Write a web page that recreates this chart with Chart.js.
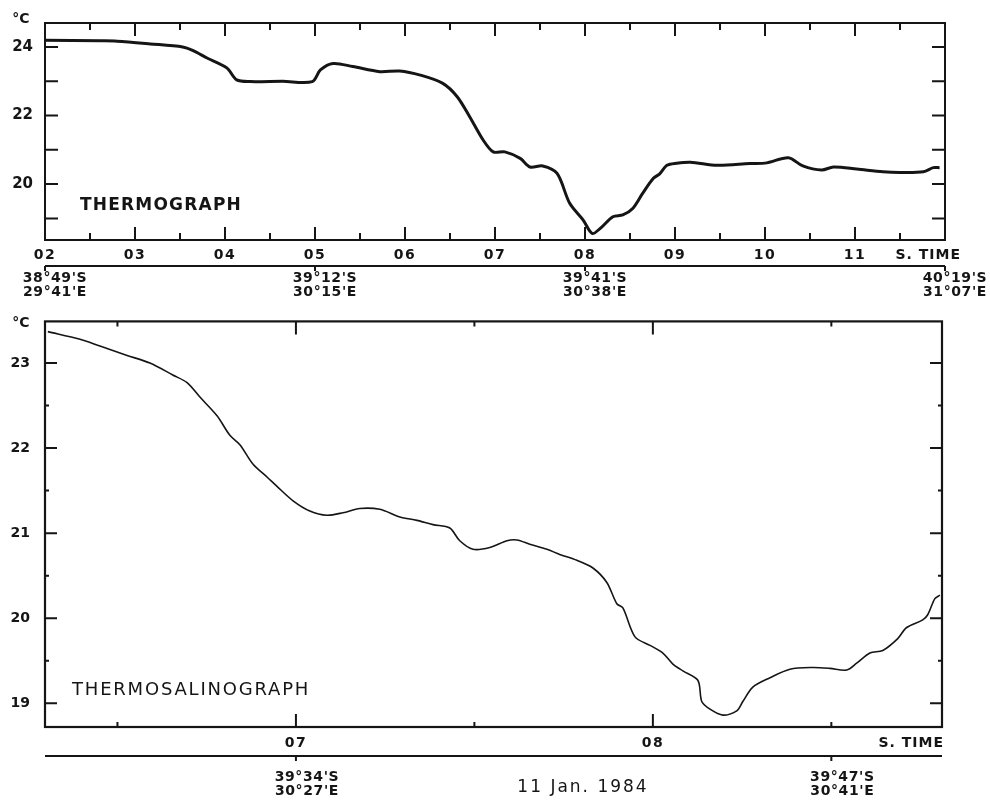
<!DOCTYPE html>
<html>
<head>
<meta charset="utf-8">
<script src="https://cdn.jsdelivr.net/npm/chart.js@4.4.1/dist/chart.umd.min.js"></script>
<style>
html, body { margin: 0; padding: 0; background: #fff; }
#wrap { position: relative; width: 990px; height: 801px; overflow: hidden; }
.panel { position: absolute; left: 0; width: 990px; }
#top { top: 0; height: 300px; }
#bottom { top: 298px; height: 503px; }
</style>
</head>
<body>
<div id="wrap">
  <div class="panel" id="top"><canvas id="thermoChart"></canvas></div>
  <div class="panel" id="bottom"><canvas id="tsgChart"></canvas></div>
</div>
<script>
// Thermograph (upper panel) - ship time in hours, temperature in degC
const thermoHours = [2.0, 2.61, 2.8, 3.17, 3.53, 3.64, 3.8, 4.02, 4.13, 4.28, 4.64, 4.97, 5.06, 5.2, 5.42, 5.72, 5.94, 6.17, 6.42, 6.58, 6.72, 6.87, 6.98, 7.11, 7.28, 7.39, 7.53, 7.69, 7.83, 7.98, 8.08, 8.17, 8.31, 8.42, 8.53, 8.64, 8.76, 8.83, 8.91, 9.02, 9.17, 9.47, 9.83, 10.02, 10.26, 10.42, 10.63, 10.76, 11.02, 11.31, 11.5, 11.76, 11.87, 11.94];
const thermoTemps = [24.2, 24.18, 24.17, 24.09, 24.0, 23.9, 23.68, 23.39, 23.04, 22.99, 23.0, 22.99, 23.33, 23.52, 23.43, 23.28, 23.3, 23.18, 22.94, 22.55, 21.96, 21.28, 20.94, 20.94, 20.75, 20.5, 20.53, 20.31, 19.44, 18.95, 18.56, 18.71, 19.05, 19.1, 19.29, 19.73, 20.17, 20.3, 20.55, 20.61, 20.64, 20.55, 20.6, 20.62, 20.77, 20.53, 20.41, 20.5, 20.44, 20.36, 20.34, 20.36, 20.48, 20.48];

// Thermosalinograph (lower panel)
const tsgHours = [6.305, 6.395, 6.451, 6.527, 6.591, 6.655, 6.695, 6.731, 6.779, 6.815,
  6.843, 6.88, 6.919, 6.947, 6.992, 7.039, 7.087, 7.132, 7.179, 7.235,
  7.291, 7.339, 7.384, 7.431, 7.459, 7.496, 7.543, 7.591, 7.619, 7.655,
  7.703, 7.739, 7.787, 7.832, 7.871, 7.899, 7.916, 7.95, 7.992, 8.028,
  8.056, 8.084, 8.126, 8.137, 8.16, 8.196, 8.235, 8.252, 8.28, 8.328,
  8.384, 8.448, 8.496, 8.543, 8.571, 8.608, 8.644, 8.686, 8.711, 8.756,
  8.77, 8.79, 8.804];
const tsgTemps = [23.37, 23.28, 23.2, 23.09, 23.0, 22.86, 22.77, 22.6, 22.38, 22.15,
  22.04, 21.81, 21.66, 21.55, 21.38, 21.26, 21.21, 21.24, 21.29, 21.28,
  21.19, 21.15, 21.1, 21.06, 20.91, 20.81, 20.83, 20.91, 20.92, 20.87,
  20.81, 20.75, 20.68, 20.59, 20.42, 20.17, 20.12, 19.78, 19.68, 19.59,
  19.46, 19.38, 19.27, 19.02, 18.93, 18.86, 18.91, 19.02, 19.19, 19.3,
  19.4, 19.42, 19.41, 19.39, 19.47, 19.59, 19.62, 19.76, 19.89, 19.98,
  20.04, 20.23, 20.27];

// axis labels
const thermoHourTicks = [2, 3, 4, 5, 6, 7, 8, 9, 10, 11];
const thermoHourLabels = ['02', '03', '04', '05', '06', '07', '08', '09', '10', '11'];
const thermoTempLabels = [24, 22, 20];
const tsgHourTicks = [7, 8];
const tsgHourLabels = ['07', '08'];
const tsgTempLabels = [23, 22, 21, 20, 19];

// positions along track
const thermoStations = [2, 5, 8, 12];
const thermoLat = ["38°49'S", "39°12'S", "39°41'S", "40°19'S"];
const thermoLon = ["29°41'E", "30°15'E", "30°38'E", "31°07'E"];
const tsgStations = [7, 8.5];
const tsgLat = ["39°34'S", "39°47'S"];
const tsgLon = ["30°27'E", "30°41'E"];

const INK = '#151515';
const FONT = 'DejaVu Sans';

function text(ctx, str, x, y, size, weight, align, spacing) {
    ctx.font = `${weight} ${size}px "${FONT}"`;
    ctx.letterSpacing = (spacing || 0) + 'px';
    ctx.textAlign = align || 'center';
    ctx.textBaseline = 'middle';
    ctx.fillText(str, x, y);
}

function range(from, to, step) {
    const out = [];
    for (let v = from; v <= to + 1e-9; v += step) out.push(Math.round(v * 100) / 100);
    return out;
}

// draws the paper-style frame, inward ticks and annotations
function makeFrame(cfg) {
    return {
        id: 'paperFrame',
        afterDatasetsDraw(chart) {
            const { ctx, chartArea: a, scales: { x, y } } = chart;
            ctx.save();
            ctx.strokeStyle = INK;
            ctx.fillStyle = INK;
            ctx.lineWidth = cfg.frameWidth;
            ctx.strokeRect(a.left, a.top, a.width, a.height);

            ctx.lineWidth = cfg.tickWidth;
            ctx.beginPath();
            cfg.xTicks.forEach(v => {
                const px = x.getPixelForValue(v);
                const len = Number.isInteger(v) ? cfg.xMajor : cfg.xMinor;
                ctx.moveTo(px, a.top); ctx.lineTo(px, a.top + len);
                ctx.moveTo(px, a.bottom); ctx.lineTo(px, a.bottom - len);
            });
            cfg.yTicks.forEach(v => {
                const py = y.getPixelForValue(v);
                const len = Number.isInteger(v) ? cfg.yMajor : cfg.yMinor;
                ctx.moveTo(a.left, py); ctx.lineTo(a.left + len, py);
                ctx.moveTo(a.right, py); ctx.lineTo(a.right - len, py);
            });
            ctx.stroke();

            // hour labels under the panel
            cfg.hourTicks.forEach((h, i) => {
                const bold = (cfg.boldFirst && i === 0) ? 'bold' : cfg.labelWeight;
                text(ctx, cfg.hourLabels[i], x.getPixelForValue(h), a.bottom + cfg.labelGap, 14, bold, 'center', 1.5);
            });
            text(ctx, 'S. TIME', cfg.stimeRight, a.bottom + cfg.labelGap, 14, cfg.labelWeight, 'right', 1);

            // track line with positions
            const ly = a.bottom + cfg.trackGap;
            ctx.lineWidth = 2;
            ctx.beginPath();
            ctx.moveTo(a.left, ly); ctx.lineTo(a.right, ly);
            cfg.stations.forEach(s => {
                const px = x.getPixelForValue(s);
                ctx.moveTo(px, ly); ctx.lineTo(px, ly + 5);
            });
            ctx.stroke();
            cfg.stations.forEach((s, i) => {
                const px = x.getPixelForValue(s) + cfg.coordShift;
                text(ctx, cfg.lat[i], px, ly + cfg.latGap, 14, cfg.labelWeight, 'center', 0.6);
                text(ctx, cfg.lon[i], px, ly + cfg.latGap + 14, 14, cfg.labelWeight, 'center', 0.6);
            });

            // unit and panel name
            text(ctx, '°C', 21, cfg.unitY, 14, 'bold', 'center', 0);
            text(ctx, cfg.name, a.left + cfg.nameX, a.bottom - cfg.nameUp, cfg.nameSize, cfg.nameWeight, 'left', cfg.nameSpacing);
            if (cfg.date) text(ctx, cfg.date, 583, ly + 32, 17, 'normal', 'center', 2);
            ctx.restore();
        }
    };
}

function lineChart(canvasId, hours, temps, opts, frameCfg) {
    return new Chart(document.getElementById(canvasId).getContext('2d'), {
        type: 'line',
        data: {
            datasets: [{
                data: hours.map((h, i) => ({ x: h, y: temps[i] })),
                borderColor: INK,
                borderWidth: opts.lineWidth,
                pointRadius: 0,
                tension: 0.3,
                fill: false
            }]
        },
        options: {
            responsive: true,
            maintainAspectRatio: false,
            animation: false,
            layout: { padding: opts.padding },
            plugins: { legend: { display: false }, tooltip: { enabled: false } },
            scales: {
                x: { type: 'linear', display: false, min: opts.xMin, max: opts.xMax },
                y: {
                    min: opts.yMin,
                    max: opts.yMax,
                    afterBuildTicks: s => { s.ticks = opts.yLabels.map(v => ({ value: v })); },
                    afterFit: s => { s.width = 45; },
                    grid: { display: false, drawTicks: false },
                    border: { display: false },
                    ticks: {
                        color: INK,
                        padding: opts.yPad,
                        font: { family: FONT, size: opts.ySize, weight: 'bold' }
                    }
                }
            }
        },
        plugins: [makeFrame(frameCfg)]
    });
}

lineChart('thermoChart', thermoHours, thermoTemps, {
    lineWidth: 3,
    padding: { top: 23, right: 45, bottom: 60, left: 0 },
    xMin: 2, xMax: 12, yMin: 18.37, yMax: 24.7,
    yLabels: thermoTempLabels, yPad: 12, ySize: 15
}, {
    frameWidth: 2, tickWidth: 2,
    xTicks: range(2.5, 11.5, 0.5), xMajor: 13, xMinor: 7,
    yTicks: range(19, 24, 1), yMajor: 13, yMinor: 13,
    hourTicks: thermoHourTicks, hourLabels: thermoHourLabels, boldFirst: true,
    labelWeight: 'bold', labelGap: 15, stimeRight: 961,
    trackGap: 26, stations: thermoStations, lat: thermoLat, lon: thermoLon,
    coordShift: 10, latGap: 12,
    unitY: 19, name: 'THERMOGRAPH', nameX: 35, nameUp: 34,
    nameSize: 17, nameWeight: 'bold', nameSpacing: 1.2
});

lineChart('tsgChart', tsgHours, tsgTemps, {
    lineWidth: 1.6,
    padding: { top: 7, right: 48, bottom: 74, left: 0 },
    xMin: 6.297, xMax: 8.81, yMin: 18.72, yMax: 23.49,
    yLabels: tsgTempLabels, yPad: 15, ySize: 14
}, {
    frameWidth: 2.2, tickWidth: 2,
    xTicks: [6.5, 7, 7.5, 8, 8.5], xMajor: 13, xMinor: 5,
    yTicks: range(19, 23, 0.5), yMajor: 12, yMinor: 4,
    hourTicks: tsgHourTicks, hourLabels: tsgHourLabels, boldFirst: false,
    labelWeight: '600', labelGap: 16, stimeRight: 944,
    trackGap: 29, stations: tsgStations, lat: tsgLat, lon: tsgLon,
    coordShift: 11, latGap: 21,
    unitY: 25, name: 'THERMOSALINOGRAPH', nameX: 27, nameUp: 37,
    nameSize: 18, nameWeight: 'normal', nameSpacing: 1.8,
    date: '11 Jan. 1984'
});
</script>
</body>
</html>
